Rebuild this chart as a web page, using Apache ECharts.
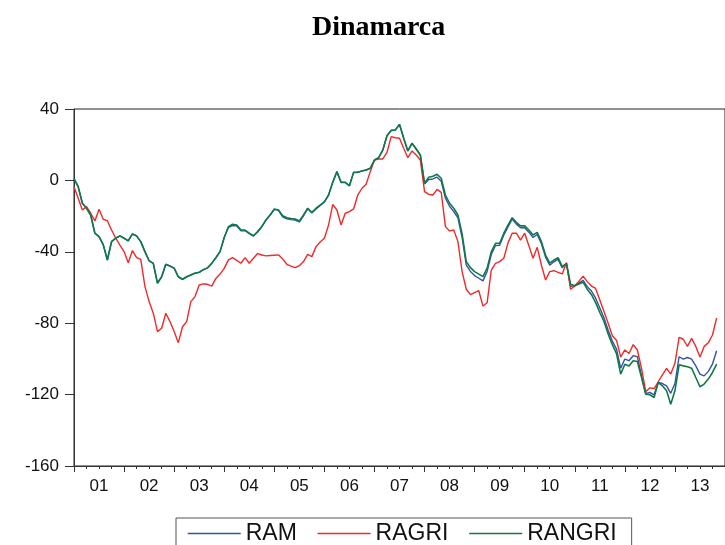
<!DOCTYPE html>
<html>
<head>
<meta charset="utf-8">
<script src="https://cdn.jsdelivr.net/npm/echarts@6/dist/echarts.min.js"></script>
<style>
    html, body { margin: 0; padding: 0; background: #fff; }
    #chart { width: 725px; height: 545px; }
</style>
</head>
<body>
<div id="chart"></div>
<script>
    // year labels, monthly data from 2001M01
    var years = ['01', '02', '03', '04', '05', '06', '07', '08', '09', '10', '11', '12', '13'];

    var ram = [
        1, -3.5, -12.8, -15.6, -19.4, -29.6, -31.5, -36, -44.6, -34.3, -32.4, -31.1,
        -32.4, -33.9, -30, -31.1, -34.3, -39.9, -45, -46.5, -57.6, -54, -47, -48,
        -49.2, -54, -55.4, -54, -53, -52, -51.5, -50, -49, -46.5, -43.3, -39.9,
        -32, -26.3, -25.3, -25.5, -28.2, -28.2, -29.8, -31.2, -28.9, -25.9, -22.2, -19.4,
        -16.2, -16.8, -20.4, -21.5, -22, -22.2, -23.3, -19.8, -15.8, -18.2, -16, -14,
        -12, -8.2, -1.1, 4.9, -1.1, -1.1, -3, 4.5, 4.5, 5.3, 5.8, 6.8,
        11.4, 12.7, 17, 25, 28, 28.2, 31.4, 23.6, 16.5, 20.8, 17.6, 14.2,
        -2, 0.5, 0.8, 1.8, -0.5, -10, -14.5, -17.5, -21, -32, -47.5, -51,
        -53.3, -54.8, -56.3, -51, -41.5, -36.5, -36.3, -30.6, -26, -21.7, -24.5, -26.5,
        -26.5, -29, -32, -30.3, -35.5, -43, -47.5, -45.6, -44.3, -49, -46.5, -59.5,
        -58.8, -57.5, -56, -59.5, -62, -66, -71.5, -77, -84, -90, -94.5, -105.2,
        -100.1, -101, -98.2, -98.8, -109.5, -119.3, -118.8, -120.1, -113.2, -113.8, -115.1, -119.3,
        -113.8, -98.8, -100.1, -99.2, -100.1, -103.9, -108.5, -109.5, -107, -102.9, -95.4
    ];

    var ragri = [
        -3.5, -10, -16.6, -14.7, -18.4, -22.7, -16.2, -21.8, -22.6, -27.8, -32.4, -36.2,
        -39.9, -46.1, -39.3, -43.3, -44.2, -59.5, -67.9, -74.4, -84.7, -82.8, -74.4, -79.1,
        -84.7, -90.9, -82, -79.1, -67.9, -65.1, -58.6, -58, -58.2, -59.2, -54.9, -52.5,
        -49.3, -44.5, -43.3, -44.8, -46.4, -43.3, -46.4, -43.6, -41, -41.8, -42.3, -42.1,
        -41.9, -41.7, -44, -47, -48, -48.9, -47.8, -45.5, -41.4, -42.7, -37.1, -34.5,
        -32.4, -25, -13.4, -16.6, -25, -18.4, -17.5, -16, -8.2, -4.4, -2.2, 4.9,
        11.4, 12, 12, 15.7, 24.5, 23.9, 23.6, 18, 12.7, 16.5, 14.2, 11.4,
        -6.3, -7.8, -8.2, -5, -6.7, -25.9, -28.3, -27.8, -34.3, -51.1, -61, -64,
        -62.9, -61.8, -70.4, -68.5, -50.2, -46.5, -45.5, -43.6, -35, -29.6, -29.6, -33.4,
        -29.6, -36.6, -43.6, -37.5, -47.4, -55.8, -51.1, -50.6, -51.5, -52.4, -46.1, -61,
        -59.2, -56.5, -53.6, -56.7, -59.2, -60.5, -67, -73.5, -80, -87, -89.5, -99,
        -95, -97, -92, -95, -105.3, -118.4, -116.2, -116.6, -112.8, -109, -105.3, -108.5,
        -102.5, -88, -89, -93, -88.5, -93, -99, -93, -91, -86.6, -77
    ];

    var rangri = [
        1, -3.5, -12.8, -15.6, -19.4, -29.6, -31.5, -36, -44.6, -34.3, -32.4, -31.1,
        -32.4, -33.9, -30, -31.1, -34.3, -39.9, -45, -46.5, -57.6, -54, -47, -48,
        -49.2, -54, -55.4, -54, -53, -52, -51.5, -50, -49, -46.5, -43.3, -39.9,
        -32, -26, -24.6, -25, -27.8, -27.8, -29.5, -31, -28.7, -25.9, -22.2, -19.4,
        -16, -16.6, -19.8, -20.9, -21.3, -21.6, -22.7, -19.4, -15.6, -17.9, -15.6, -13.8,
        -12, -8.2, -1.1, 4.9, -1.1, -1.1, -3, 4.5, 4.5, 5.3, 5.8, 6.8,
        11.4, 12.7, 17, 25, 28, 28.2, 31.4, 23.6, 16.5, 20.8, 17.6, 14.2,
        -1.6, 1.8, 2.3, 3.4, 1.2, -8.2, -12.8, -15.6, -19.4, -30, -45.5, -48.9,
        -51.1, -52.5, -53.9, -49.2, -39.9, -35.2, -35.2, -29.6, -25, -20.9, -23.5, -25.5,
        -25.5, -27.8, -30.6, -29.1, -34.3, -41.8, -46.4, -44.6, -43.3, -48.3, -46.5, -58.2,
        -59, -58, -57, -61, -64, -68.5, -74, -79, -86, -92, -97, -108.5,
        -103, -104, -101, -101.5, -110.4, -119.8, -120.1, -121.6, -113.2, -115.1, -117.9, -125.4,
        -117.9, -103.3, -103.9, -104.4, -105.2, -110.4, -115.6, -114.1, -111.3, -107.6, -102.9
    ];

    var names = ['RAM', 'RAGRI', 'RANGRI'];
    var colors = { RAM: '#3553a6', RAGRI: '#ee2a2a', RANGRI: '#107a46' };

    // month index -> x position on the value axis
    function pairs(arr) {
        return arr.map(function (v, i) { return [i, v]; });
    }

    function lineSeries(name, arr, width) {
        return {
            name: name,
            type: 'line',
            xAxisIndex: 0,
            data: pairs(arr),
            symbol: 'none',
            itemStyle: { color: colors[name] },
            lineStyle: { color: colors[name], width: width }
        };
    }

    var font = "'Liberation Sans', Arial, sans-serif";
    var axisColor = '#333';

    var chart = echarts.init(document.getElementById('chart'));
    chart.setOption({
        animation: false,
        title: {
            text: 'Dinamarca',
            left: 307,
            top: 9,
            textStyle: {
                fontFamily: "'Liberation Serif', 'Times New Roman', serif",
                fontWeight: 'bold',
                fontSize: 28,
                color: '#000'
            }
        },
        legend: {
            data: names.map(function (n) {
                return { name: n, lineStyle: { color: colors[n], width: 1.5 } };
            }),
            left: 176,
            top: 518,
            itemWidth: 53,
            itemHeight: 14,
            itemGap: 20,
            borderColor: '#555',
            borderWidth: 1,
            padding: [4, 15, 10, 11],
            itemStyle: { opacity: 0 },
            textStyle: { fontFamily: font, fontSize: 23, color: '#111' }
        },
        grid: {
            left: 74,
            top: 109,
            right: -8,
            bottom: 79,
            show: true,
            borderColor: '#222',
            borderWidth: 1,
            backgroundColor: 'transparent'
        },
        xAxis: [
            {
                type: 'value',
                min: 0,
                max: 156,
                interval: 12,
                position: 'bottom',
                axisLine: { show: true, onZero: false, lineStyle: { color: axisColor } },
                axisTick: { show: true, length: 6, lineStyle: { color: axisColor } },
                minorTick: { show: true, splitNumber: 4, length: 3, lineStyle: { color: axisColor } },
                axisLabel: { show: false },
                splitLine: { show: false }
            },
            {
                type: 'category',
                data: years,
                boundaryGap: true,
                position: 'bottom',
                axisLine: { show: false, onZero: false },
                axisTick: { show: false },
                axisLabel: { fontFamily: font, fontSize: 17, color: '#111', margin: 12 },
                splitLine: { show: false }
            }
        ],
        yAxis: {
            type: 'value',
            min: -160,
            max: 40,
            interval: 40,
            axisLine: { show: true, lineStyle: { color: axisColor } },
            axisTick: { show: true, length: 9, lineStyle: { color: axisColor } },
            axisLabel: { fontFamily: font, fontSize: 17, color: '#111', margin: 15 },
            splitLine: { show: false }
        },
        series: [
            lineSeries('RAM', ram, 1.4),
            lineSeries('RAGRI', ragri, 1.4),
            lineSeries('RANGRI', rangri, 1.6)
        ]
    });
</script>
</body>
</html>
